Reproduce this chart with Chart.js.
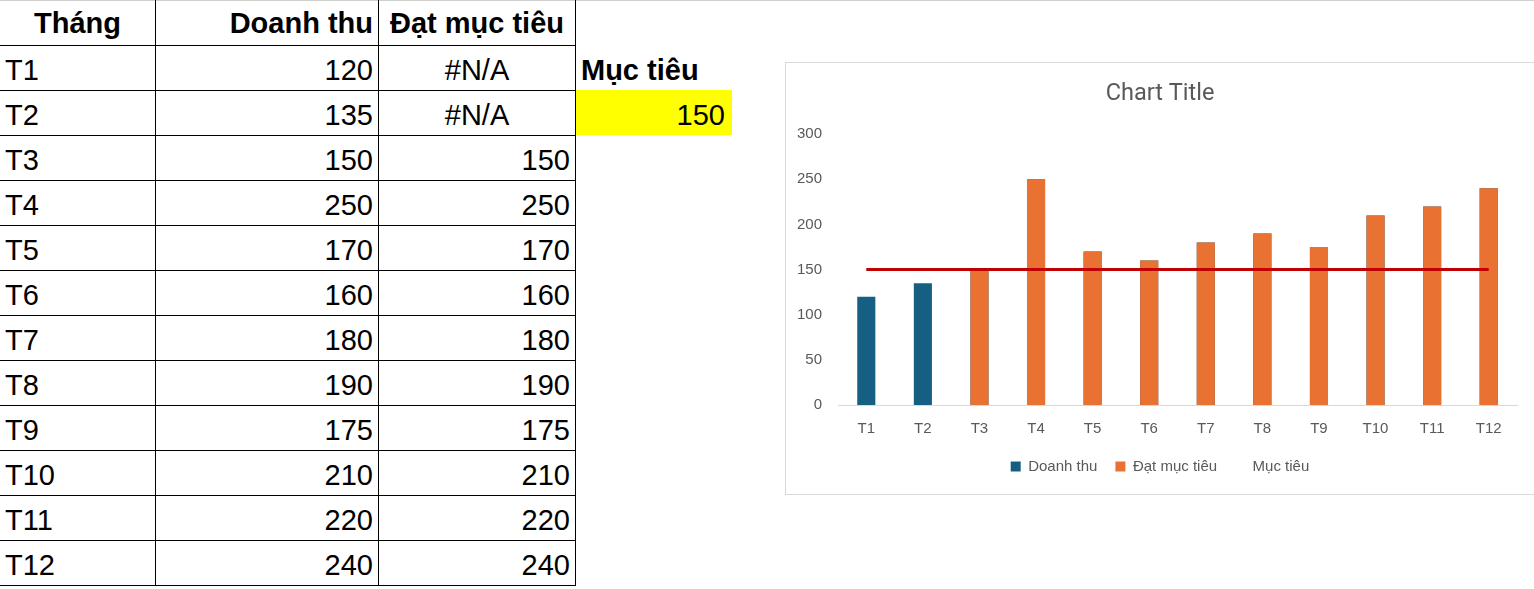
<!DOCTYPE html>
<html>
<head>
<meta charset="utf-8">
<script src="https://cdn.jsdelivr.net/npm/chart.js@4"></script>
<style>
  body { margin: 0; width: 1534px; height: 589px; background: #fff; position: relative; overflow: hidden;
         font-family: "Liberation Sans", Arial, sans-serif; }
  .topline { position: absolute; left: 0; top: 0; width: 1534px; height: 1px; background: #d0d0d0; }
  table { position: absolute; left: -1px; top: 0; border-collapse: collapse; table-layout: fixed; font-size: 29px; color: #000; }
  tr { height: 45px; }
  td { padding: 6px 5px 0 5px; border: 1px solid #000; white-space: nowrap; vertical-align: middle; overflow: hidden; }
  tr:first-child td { border-top: none; padding-top: 2px; }
  td.n { text-align: right; }
  td.c { text-align: center; }
  td.h { font-weight: bold; }
  td.e { border: none; }
  td.e.n { padding-right: 7px; }
  .chartbox { position: absolute; left: 785px; top: 62px; width: 748px; height: 431px; border: 1px solid #d9d9d9; }
</style>
</head>
<body>
<div class="topline"></div>
<table id="tbl">
  <colgroup><col style="width:156px"><col style="width:223px"><col style="width:197px"><col style="width:157px"></colgroup>
</table>
<div class="chartbox"><canvas id="myChart"></canvas></div>
<script>
   let months = ['T1', 'T2', 'T3', 'T4', 'T5', 'T6', 'T7', 'T8', 'T9', 'T10', 'T11', 'T12'];
   let revenue = [120, 135, 150, 250, 170, 160, 180, 190, 175, 210, 220, 240];
   let reached = [null, null, 150, 250, 170, 160, 180, 190, 175, 210, 220, 240];
   let target = 150;
   let targetLine = months.map(() => target);
   let yTicks = [0, 50, 100, 150, 200, 250, 300];

   //    build the sheet table
   let html = '<tr><td class="c h">Tháng</td><td class="n h">Doanh thu</td>' +
              '<td class="c h">Đạt mục tiêu</td><td class="e"></td></tr>';
   months.forEach((m, i) => {
       let e = '<td class="e"></td>';
       if (i === 0) e = '<td class="e h" style="padding-left:5px">Mục tiêu</td>';
       if (i === 1) e = '<td class="e n" style="background:#ffff00">' + target + '</td>';
       html += '<tr><td>' + m + '</td><td class="n">' + revenue[i] + '</td><td class="' +
               (reached[i] === null ? 'c' : 'n') + '">' + (reached[i] === null ? '#N/A' : reached[i]) + '</td>' + e + '</tr>';
   });
   document.getElementById('tbl').insertAdjacentHTML('beforeend', html);

   const chartData = {
       labels: months,
       datasets: [{
           label: 'Doanh thu',
           data: revenue,
           backgroundColor: '#156082',
           grouped: false,
           barPercentage: 0.32,
           categoryPercentage: 1,
           order: 3
       }, {
           label: 'Đạt mục tiêu',
           data: reached,
           backgroundColor: '#E97132',
           grouped: false,
           barPercentage: 0.32,
           categoryPercentage: 1,
           order: 2
       }, {
           type: 'line',
           label: 'Mục tiêu',
           data: targetLine,
           borderColor: '#C00000',
           borderWidth: 3,
           pointRadius: 0,
           order: 1
       }]
   };

   const config = {
       type: 'bar',
       data: chartData,
       options: {
           responsive: true,
           maintainAspectRatio: false,
           animation: false,
           layout: { padding: { left: 0, right: 0, bottom: 10 } },
           plugins: {
               title: {
                   display: true,
                   text: 'Chart Title',
                   color: '#595959',
                   font: { family: 'Roboto', size: 23.5, weight: 'normal' },
                   padding: { top: 17, bottom: 26 }
               },
               legend: {
                   position: 'bottom',
                   labels: {
                       color: '#595959',
                       font: { family: "'Liberation Sans'", size: 15 },
                       boxWidth: 10,
                       boxHeight: 10,
                       padding: 18,
                       sort: (a, b) => a.datasetIndex - b.datasetIndex,
                       generateLabels: function (chart) {
                           let items = Chart.defaults.plugins.legend.labels.generateLabels(chart);
                           items.forEach(it => {
                               if (it.datasetIndex === 2) {
                                   it.fillStyle = 'rgba(0,0,0,0)';
                                   it.strokeStyle = 'rgba(0,0,0,0)';
                               } else {
                                   it.lineWidth = 0;
                               }
                           });
                           return items;
                       }
                   }
               },
               tooltip: { enabled: false }
           },
           scales: {
               x: {
                   grid: { display: false },
                   border: { color: '#d9d9d9' },
                   afterFit: axis => { axis.height -= 4; },
                   ticks: {
                       color: '#595959',
                       padding: 7,
                       font: { family: "'Liberation Sans'", size: 15 }
                   }
               },
               y: {
                   min: 0,
                   max: 300,
                   afterBuildTicks: axis => { axis.ticks = yTicks.map(v => ({ value: v })); },
                   afterFit: axis => { axis.width = 52; },
                   grid: { display: false, drawTicks: false },
                   border: { display: false },
                   ticks: {
                       color: '#595959',
                       padding: 16,
                       font: { family: "'Liberation Sans'", size: 15 }
                   }
               },
               //    empty right axis, keeps the plot off the right edge
               yRight: {
                   position: 'right',
                   afterFit: axis => { axis.width = 17; },
                   grid: { display: false, drawTicks: false },
                   border: { display: false },
                   ticks: { display: false }
               }
           }
       }
   };

   new Chart(
       document.getElementById('myChart'),
       config
   );
</script>
</body>
</html>
